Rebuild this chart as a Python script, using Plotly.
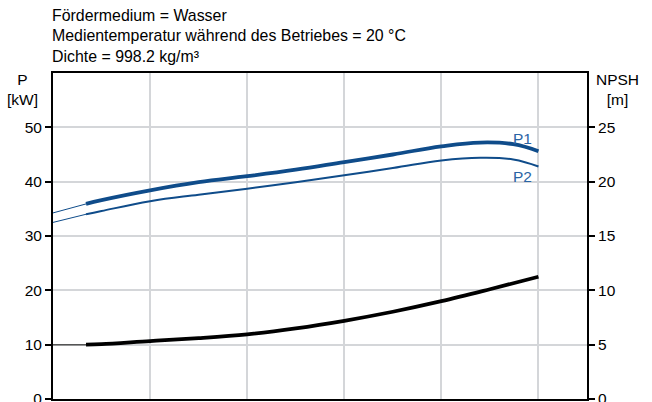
import plotly.graph_objects as go

# Flow axis positions (no labels shown on the reference)
q_ext = [0.0, 0.34]
q = [0.34, 0.5, 1.0, 1.5, 2.0, 2.5, 3.0, 3.5, 4.0, 4.4, 4.74, 5.0]

# Power curves [kW]
p1_ext = [34.25, 35.9]
p1 = [35.9, 36.6, 38.4, 39.9, 41.0, 42.2, 43.6, 45.0, 46.5, 47.2, 46.9, 45.6]
p2_ext = [32.5, 34.0]
p2 = [34.0, 34.6, 36.4, 37.6, 38.7, 39.9, 41.2, 42.5, 43.9, 44.4, 44.1, 42.8]

# NPSH curve [m]
q_npsh = [0.34, 0.5, 1.0, 1.5, 2.0, 2.5, 3.0, 3.5, 4.0, 4.5, 5.0]
npsh = [5.0, 5.05, 5.33, 5.6, 5.95, 6.5, 7.2, 8.03, 9.0, 10.1, 11.25]
npsh_ext = [5.0, 5.0]

title_lines = ["Fördermedium = Wasser",
               "Medientemperatur während des Betriebes = 20 °C",
               "Dichte = 998.2 kg/m³"]

BLUE = "#0f4c8a"
FONT = "Liberation Sans, Arial, sans-serif"
FS = 15.5

fig = go.Figure()
fig.add_trace(go.Scatter(x=q_ext, y=p1_ext, mode="lines", line=dict(color=BLUE, width=1), hoverinfo="skip"))
fig.add_trace(go.Scatter(x=q_ext, y=p2_ext, mode="lines", line=dict(color=BLUE, width=1), hoverinfo="skip"))
fig.add_trace(go.Scatter(x=q, y=p1, mode="lines", line=dict(color=BLUE, width=3.8, shape="spline", smoothing=1.2), name="P1"))
fig.add_trace(go.Scatter(x=q, y=p2, mode="lines", line=dict(color=BLUE, width=2, shape="spline", smoothing=1.2), name="P2"))
fig.add_trace(go.Scatter(x=q_ext, y=npsh_ext, mode="lines", line=dict(color="#555555", width=1.5),
                         yaxis="y2", hoverinfo="skip"))
fig.add_trace(go.Scatter(x=q_npsh, y=npsh, mode="lines", line=dict(color="black", width=3.8, shape="spline"),
                         yaxis="y2", name="NPSH"))

annotations = []
for i, t in enumerate(title_lines):
    annotations.append(dict(text=t, xref="paper", yref="paper", x=0, y=1, xanchor="left",
                            yanchor="middle", yshift=58 - 20.5 * i, xshift=-3, showarrow=False,
                            font=dict(size=15.9, color="black", family=FONT)))
annotations += [
    dict(text="P<br>[kW]", xref="paper", yref="paper", x=0, y=1, xshift=-31, yshift=-16,
         xanchor="center", yanchor="middle", showarrow=False,
         font=dict(size=FS, color="black", family=FONT)),
    dict(text="NPSH<br>[m]", xref="paper", yref="paper", x=1, y=1, xshift=30, yshift=-16,
         xanchor="center", yanchor="middle", showarrow=False,
         font=dict(size=FS, color="black", family=FONT)),
    dict(text="P1", x=q[-1], y=p1[-1], xanchor="right", yanchor="middle", xshift=-4, yshift=13,
         showarrow=False, font=dict(size=FS, color="#2a64a4", family=FONT)),
    dict(text="P2", x=q[-1], y=p2[-1], xanchor="right", yanchor="middle", xshift=-4, yshift=-10,
         showarrow=False, font=dict(size=FS, color="#2a64a4", family=FONT)),
]

fig.update_layout(
    width=652, height=402,
    margin=dict(l=53, r=65, t=73, b=3),
    paper_bgcolor="white", plot_bgcolor="white",
    showlegend=False,
    font=dict(family=FONT, size=FS, color="black"),
    xaxis=dict(range=[0, 5.5], dtick=1, tick0=0, showticklabels=False, ticks="",
               showgrid=True, gridcolor="#d4d6d9", gridwidth=1.5, zeroline=False,
               showline=True, linecolor="black", linewidth=2, mirror=True),
    yaxis=dict(range=[0, 60], tickvals=[0, 10, 20, 30, 40, 50], ticks="outside", ticklen=6,
               tickwidth=2, tickcolor="black", showgrid=True, gridcolor="#d4d6d9", gridwidth=1.5,
               zeroline=False, showline=True, linecolor="black", linewidth=2, automargin=False,
               ticklabeloverflow="allow", tickfont=dict(size=FS)),
    yaxis2=dict(range=[0, 30], tickvals=[0, 5, 10, 15, 20, 25], overlaying="y", side="right",
                ticks="outside", ticklen=6, tickwidth=2, tickcolor="black", showgrid=False,
                zeroline=False, showline=True, linecolor="black", linewidth=2, automargin=False,
                ticklabeloverflow="allow", tickfont=dict(size=FS)),
    annotations=annotations,
)

fig.write_html("out.html", config={"displayModeBar": False},
               post_script="document.body.style.margin='0px';document.body.style.overflow='hidden';")
